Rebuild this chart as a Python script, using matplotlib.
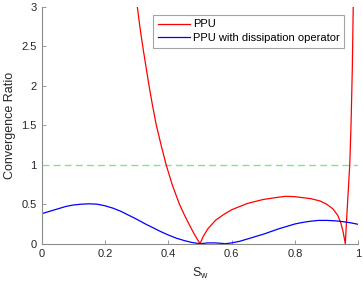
import matplotlib
matplotlib.use("Agg")
import matplotlib.pyplot as plt

plt.rcParams["font.family"] = ["Liberation Sans", "DejaVu Sans"]

# PPU (left branch, right branch, steep rise near Sw=1)
ppu_x = [0.302, 0.310, 0.319, 0.329, 0.339, 0.350, 0.362, 0.377, 0.393,
         0.412, 0.435, 0.450, 0.465, 0.482, 0.5,
         0.51, 0.525, 0.55, 0.575, 0.6, 0.625, 0.65, 0.7, 0.75, 0.77, 0.8,
         0.85, 0.88, 0.9, 0.92, 0.935, 0.945, 0.952, 0.959,
         0.963, 0.968, 0.973, 0.977, 0.981, 0.984]
ppu_y = [3.0, 2.75, 2.5, 2.25, 2.0, 1.75, 1.5, 1.25, 1.0,
         0.75, 0.5, 0.37, 0.25, 0.12, 0.0,
         0.09, 0.19, 0.3, 0.37, 0.43, 0.47, 0.51, 0.56, 0.59, 0.6, 0.595,
         0.57, 0.54, 0.5, 0.44, 0.36, 0.26, 0.15, 0.0,
         0.3, 0.65, 1.0, 1.5, 2.2, 3.0]

# PPU with dissipation operator
dis_x = [0.0, 0.025, 0.05, 0.075, 0.1, 0.125, 0.15, 0.175, 0.2, 0.225, 0.25,
         0.275, 0.3, 0.325, 0.35, 0.375, 0.4, 0.425, 0.45, 0.475, 0.5,
         0.525, 0.55, 0.58, 0.6, 0.625, 0.65, 0.675, 0.7, 0.725, 0.75,
         0.775, 0.8, 0.825, 0.85, 0.875, 0.9, 0.925, 0.95, 0.975, 1.0]
dis_y = [0.38, 0.41, 0.44, 0.47, 0.49, 0.50, 0.505, 0.50, 0.48, 0.45, 0.41,
         0.36, 0.31, 0.255, 0.205, 0.155, 0.11, 0.07, 0.04, 0.015, 0.0,
         0.01, 0.01, 0.0, 0.01, 0.03, 0.06, 0.09, 0.12, 0.155, 0.19,
         0.22, 0.25, 0.27, 0.285, 0.295, 0.295, 0.29, 0.28, 0.265, 0.245]

fig = plt.figure(figsize=(3.63, 2.90), dpi=100)
ax = fig.add_axes([41.7 / 363, (290 - 243.7) / 290, 316.6 / 363, 237 / 290])

ax.axhline(1, color="#80e680", linestyle=(0, (5, 3)), linewidth=1.0)
ax.plot(ppu_x, ppu_y, color="#ff0000", linewidth=0.9, label="PPU")
ax.plot(dis_x, dis_y, color="#0000ff", linewidth=0.9, label="PPU with dissipation operator")

ax.set_xlim(0, 1)
ax.set_ylim(0, 3)
ax.set_xticks([0, 0.2, 0.4, 0.6, 0.8, 1])
ax.set_xticklabels(["0", "0.2", "0.4", "0.6", "0.8", "1"])
ax.set_yticks([0, 0.5, 1, 1.5, 2, 2.5, 3])
ax.set_yticklabels(["0", "0.5", "1", "1.5", "2", "2.5", "3"])

for side in ("top", "right"):
    ax.spines[side].set_visible(False)
for side in ("left", "bottom"):
    ax.spines[side].set_color("#8c8c8c")
    ax.spines[side].set_linewidth(0.8)
ax.tick_params(direction="in", length=3, width=0.6, color="#8c8c8c",
               labelcolor="#262626", labelsize=8)

ax.set_xlabel("S$_\\mathregular{w}$", fontsize=9, color="#262626", labelpad=5)
ax.set_ylabel("Convergence Ratio", fontsize=9, color="#262626", labelpad=4)

leg = ax.legend(loc="upper left", bbox_to_anchor=(0.352, 0.965), fontsize=8,
                frameon=True, fancybox=False, handlelength=2.9, handletextpad=0.3,
                borderpad=0.4, labelspacing=0.35, borderaxespad=0)
leg.get_frame().set_edgecolor("#8c8c8c")
leg.get_frame().set_linewidth(0.8)

fig.savefig("out.png", dpi=100)
